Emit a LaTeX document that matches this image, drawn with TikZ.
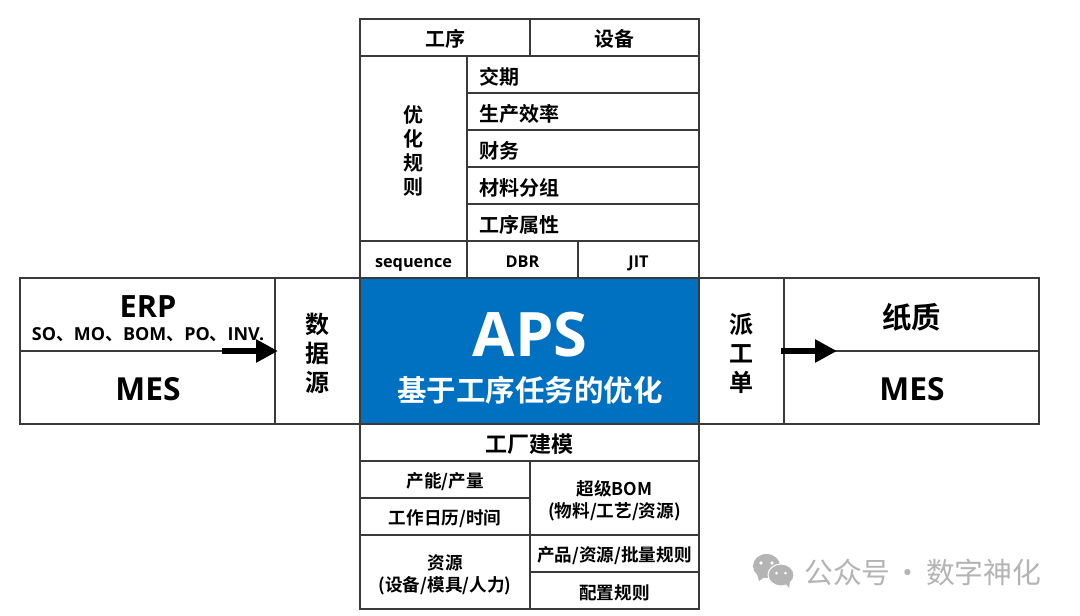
\documentclass[tikz,border=0pt]{standalone}
\usepackage{fontspec}
\setmainfont{Open Sans}[BoldFont={Open Sans Bold}]
\newfontfamily\cjk{Noto Sans CJK SC}[BoldFont={Noto Sans CJK SC Bold}]
\definecolor{apsblue}{HTML}{0070C0}
\definecolor{gridline}{HTML}{3A3A3A}
\definecolor{wmgrey}{HTML}{B4B4B4}
\usetikzlibrary{arrows.meta}
\tikzset{
  x=0.75pt,y=-0.75pt,
  cell/.style={draw=gridline,line width=0.8pt,fill=white},
  lbl/.style={align=center,inner sep=0pt,text=black},
  rowlbl/.style={lbl,anchor=west},
  bigarrow/.style={line width=5.2pt,draw=black,-{Triangle[length=16.5pt,width=16.5pt]},shorten >=0pt},
  cjk15/.style={font=\cjk\bfseries\fontsize{15}{18}\selectfont,yshift=-1pt},
  cjk13/.style={font=\cjk\bfseries\fontsize{13.2}{16.5}\selectfont,yshift=-1.9pt},
  cjkside/.style={font=\cjk\bfseries\fontsize{18}{21.75}\selectfont,yshift=-1.5pt},
  cjktall/.style={font=\cjk\bfseries\fontsize{15}{18}\selectfont,yshift=-1.5pt},
  latsmall/.style={font=\bfseries\fontsize{12.2}{14}\selectfont,text height=9pt,text depth=2.6pt,yshift=-2.6pt},
  mesfont/.style={font=\bfseries\fontsize{23.8}{28}\selectfont},
}
\begin{document}
\begin{tikzpicture}
\useasboundingbox (0,0) rectangle (1080,615);
\fill[white] (0,0) rectangle (1080,615);

% left block
\draw[cell] (20,278) rectangle (275,351) node[midway] (erpcell) {};
\draw[cell] (20,351) rectangle (275,424) node[midway] (mesl) {};
\draw[cell] (275,278) rectangle (360,424) node[midway,lbl,cjkside] (src) {数\\据\\源};
\node[lbl,font=\bfseries\fontsize{23}{27}\selectfont] (erp) at (148,307) {ERP};
\node[lbl,font=\bfseries\fontsize{13.45}{16}\selectfont] (sub) at (148,335) {SO{\cjk\bfseries 、}MO{\cjk\bfseries 、}BOM{\cjk\bfseries 、}PO{\cjk\bfseries 、}INV.};
\node[lbl,mesfont] (mes1) at (148,389.5) {MES};

% right block
\draw[cell] (699,278) rectangle (784,424) node[midway,lbl,cjkside] (disp) {派\\工\\单};
\draw[cell] (784,278) rectangle (1039,351) node[midway,lbl,font=\cjk\bfseries\fontsize{22}{26}\selectfont,yshift=-2pt] (paper) {纸质};
\draw[cell] (784,351) rectangle (1039,424) node[midway] (mesrc) {};
\node[lbl,mesfont] (mes2) at (912,389.5) {MES};

% top block
\draw[cell] (360,19) rectangle (530,56) node[midway,lbl,cjk15] (gx) {工序};
\draw[cell] (530,19) rectangle (699,56) node[midway,lbl,cjk15] (sb) {设备};
\draw[cell] (360,56) rectangle (467,241) node[midway,lbl,cjktall] (rule) {优\\化\\规\\则};
\draw[cell] (467,56) rectangle (699,93);
\draw[cell] (467,93) rectangle (699,130);
\draw[cell] (467,130) rectangle (699,167);
\draw[cell] (467,167) rectangle (699,204);
\draw[cell] (467,204) rectangle (699,241);
\node[rowlbl,cjk15] (r1) at (479,75.5) {交期};
\node[rowlbl,cjk15] (r2) at (479,112.5) {生产效率};
\node[rowlbl,cjk15] (r3) at (479,149.5) {财务};
\node[rowlbl,cjk15] (r4) at (479,186.5) {材料分组};
\node[rowlbl,cjk15] (r5) at (479,223.5) {工序属性};
\draw[cell] (360,241) rectangle (467,278) node[midway,lbl,latsmall] (seq) {sequence};
\draw[cell] (467,241) rectangle (578,278) node[midway,lbl,latsmall] (dbr) {DBR};
\draw[cell] (578,241) rectangle (699,278) node[midway,lbl,latsmall] (jit) {JIT};

% centre
\draw[draw=gridline,line width=0.8pt,fill=apsblue] (360,278) rectangle (699,424);
\node[lbl,text=white,font=\bfseries\fontsize{46}{50}\selectfont] (aps) at (530,335) {APS};
\node[lbl,text=white,font=\cjk\bfseries\fontsize{22.1}{26}\selectfont] (apssub) at (530,390) {基于工序任务的优化};

% bottom block
\draw[cell] (360,424) rectangle (699,461) node[midway,lbl,font=\cjk\bfseries\fontsize{16.5}{20}\selectfont,yshift=-1.5pt] (fm) {工厂建模};
\draw[cell] (360,461) rectangle (530,498) node[midway,lbl,cjk13] (cn) {产能/产量};
\draw[cell] (360,498) rectangle (530,535) node[midway,lbl,cjk13] (cal) {工作日历/时间};
\draw[cell] (360,535) rectangle (530,609) node[midway,lbl,cjk13] (res) {资源\\(设备/模具/人力)};
\draw[cell] (530,461) rectangle (699,535) node[midway,lbl,cjk13] (sbom) {超级{\bfseries BOM}\\(物料/工艺/资源)};
\draw[cell] (530,535) rectangle (699,572) node[midway,lbl,cjk13] (batch) {产品/资源/批量规则};
\draw[cell] (530,572) rectangle (699,609) node[midway,lbl,cjk13] (cfg) {配置规则};

% arrows
\coordinate (a1s) at (222,351);
\coordinate (a1e) at (278,351);
\coordinate (a2s) at (781,351);
\coordinate (a2e) at (837,351);
\draw[bigarrow] (a1s) -- (a1e);
\draw[bigarrow] (a2s) -- (a2e);

% watermark
\fill[wmgrey] (766.5,566) ellipse (13.5 and 12);
\fill[wmgrey] (757,574) -- (759,581) -- (766,576) -- cycle;
\fill[wmgrey,draw=white,line width=0.8pt] (781,575) ellipse (13 and 11);
\fill[wmgrey] (786,584) -- (789,588) -- (790,581) -- cycle;
\fill[white] (761,563) circle (1.9) (772,563) circle (1.9) (776.5,573) circle (1.5) (785.5,573) circle (1.5);
\node[lbl,text=wmgrey,anchor=west,font=\cjk\fontsize{21.6}{25}\selectfont] (wm) at (804,572) {公众号\hspace{2.5pt}·\hspace{2.5pt}数字神化};
\end{tikzpicture}
\end{document}
